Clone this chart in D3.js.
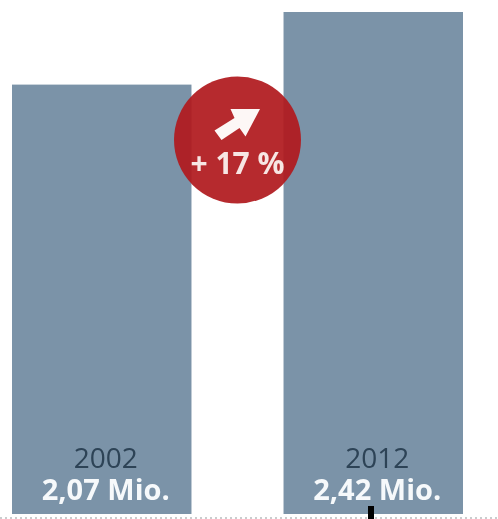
<!DOCTYPE html>
<html>
<head>
<meta charset="utf-8">
<script src="https://cdn.jsdelivr.net/npm/d3@7"></script>
<style>
  html, body { margin: 0; padding: 0; background: #fff; }
  svg { display: block; filter: blur(0.5px); }
  text { font-family: "Open Sans", sans-serif; text-anchor: middle; }
</style>
</head>
<body>
<div id="chart"></div>
<script>
// data
const years = ['2002', '2012'];
const values = [2.07, 2.42];
const valueLabels = ['2,07 Mio.', '2,42 Mio.'];
const changeLabel = '+ 17 %';

const width = 498;
const height = 519;
const barBottom = 514;
const barTop = 12;
const barColor = '#7b93a8';
const labelOffset = 4; // labels sit a little right of the bar centre

const scaleX = d3.scaleBand()
  .domain(years)
  .range([12, 463])
  .paddingInner(0.339)
  .paddingOuter(0);

const scaleY = d3.scaleLinear()
  .domain([0, d3.max(values)])
  .range([barBottom, barTop]);

const $svg = d3.select('#chart').append('svg')
  .attr('width', width)
  .attr('height', height);

const rows = years.map((year, i) => ({ year, value: values[i], label: valueLabels[i] }));
const labelX = d => scaleX(d.year) + scaleX.bandwidth() / 2 + labelOffset;

// bars
$svg.selectAll('.bar')
  .data(rows)
  .enter()
  .append('rect')
  .attr('class', 'bar')
  .attr('x', d => scaleX(d.year))
  .attr('y', d => scaleY(d.value))
  .attr('width', scaleX.bandwidth())
  .attr('height', d => barBottom - scaleY(d.value))
  .style('fill', barColor);

// year + value labels
$svg.selectAll('.year')
  .data(rows)
  .enter()
  .append('text')
  .attr('class', 'year')
  .attr('x', labelX)
  .attr('y', 468)
  .style('font-size', '28px')
  .style('fill', '#2d4356')
  .text(d => d.year);

$svg.selectAll('.value')
  .data(rows)
  .enter()
  .append('text')
  .attr('class', 'value')
  .attr('x', labelX)
  .attr('y', 500)
  .style('font-size', '29px')
  .style('font-weight', 700)
  .style('fill', '#f6f9fb')
  .text(d => d.label);

// baseline
$svg.append('line')
  .attr('x1', 0)
  .attr('x2', width)
  .attr('y1', 518)
  .attr('y2', 518)
  .style('stroke', '#b9bdbf')
  .style('stroke-width', 1.5)
  .style('stroke-dasharray', '2 3');

// small black tick over the baseline
$svg.append('rect')
  .attr('x', 368)
  .attr('y', 506)
  .attr('width', 6)
  .attr('height', 13)
  .style('fill', '#000');

// change badge
const $badge = $svg.append('g')
  .attr('transform', 'translate(237.5, 140)');

$badge.append('circle')
  .attr('r', 63.5)
  .style('fill', '#b01a1e')
  .style('opacity', 0.93);

$badge.append('path')
  .attr('d', 'M-23,-9.5 L-3,-22 L-7,-31 L22.5,-31 L8,-3.5 L2,-12 L-16,0 Z')
  .style('fill', '#fdf7f6');

$badge.append('text')
  .attr('y', 34)
  .style('font-size', '30px')
  .style('font-weight', 700)
  .style('fill', '#f7e6e4')
  .text(changeLabel);
</script>
</body>
</html>
